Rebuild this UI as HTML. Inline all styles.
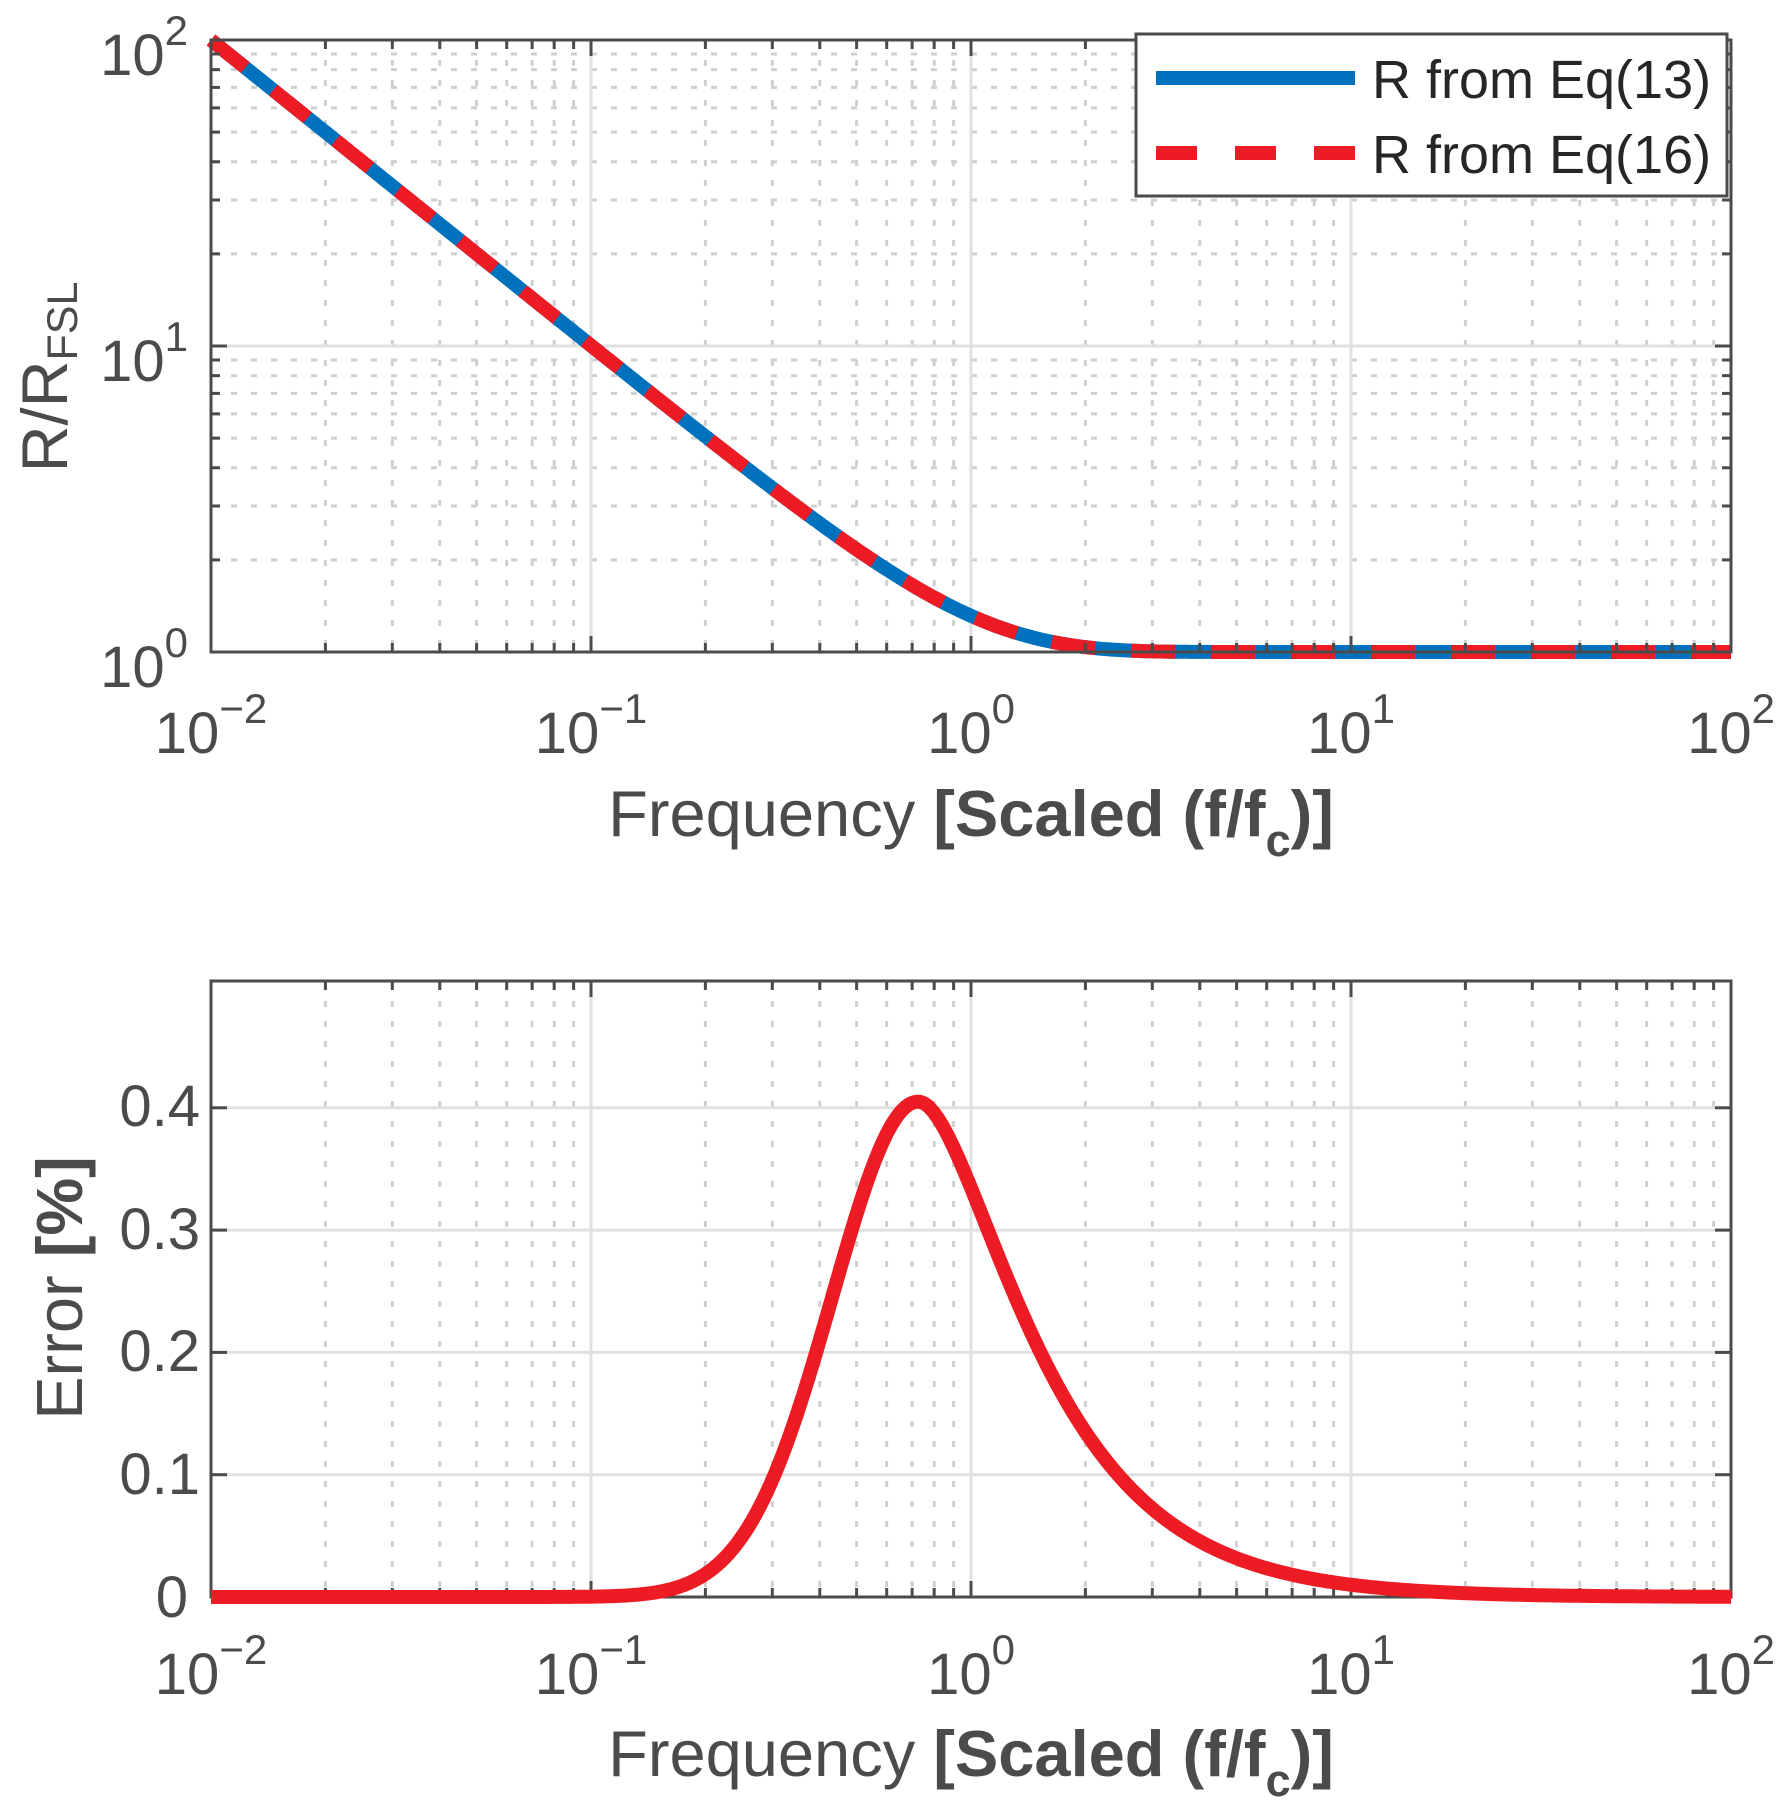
<!DOCTYPE html>
<html><head><meta charset="utf-8"><style>
html,body{margin:0;padding:0;background:#fff;}
svg{display:block;font-family:"Liberation Sans",Arial,sans-serif;}
</style></head><body>
<svg id="s" xmlns="http://www.w3.org/2000/svg" width="1787" height="1817" viewBox="0 0 1787 1817">
<rect width="1787" height="1817" fill="#fff"/>
<g id="g"></g>
<g fill="#4b4b4b" font-size="58">
<text x="188" y="75" text-anchor="end">10<tspan font-size="42" dy="-30">2</tspan></text>
<text x="188" y="381" text-anchor="end">10<tspan font-size="42" dy="-30">1</tspan></text>
<text x="188" y="687" text-anchor="end">10<tspan font-size="42" dy="-30">0</tspan></text>
<text x="211" y="753" text-anchor="middle">10<tspan font-size="42" dy="-30">−2</tspan></text>
<text x="591" y="753" text-anchor="middle">10<tspan font-size="42" dy="-30">−1</tspan></text>
<text x="971" y="753" text-anchor="middle">10<tspan font-size="42" dy="-30">0</tspan></text>
<text x="1351" y="753" text-anchor="middle">10<tspan font-size="42" dy="-30">1</tspan></text>
<text x="1731" y="753" text-anchor="middle">10<tspan font-size="42" dy="-30">2</tspan></text>
<text x="211" y="1694" text-anchor="middle">10<tspan font-size="42" dy="-30">−2</tspan></text>
<text x="591" y="1694" text-anchor="middle">10<tspan font-size="42" dy="-30">−1</tspan></text>
<text x="971" y="1694" text-anchor="middle">10<tspan font-size="42" dy="-30">0</tspan></text>
<text x="1351" y="1694" text-anchor="middle">10<tspan font-size="42" dy="-30">1</tspan></text>
<text x="1731" y="1694" text-anchor="middle">10<tspan font-size="42" dy="-30">2</tspan></text>
<text x="200" y="1126" text-anchor="end">0.4</text>
<text x="200" y="1249" text-anchor="end">0.3</text>
<text x="200" y="1371" text-anchor="end">0.2</text>
<text x="200" y="1494" text-anchor="end">0.1</text>
<text x="188" y="1617" text-anchor="end">0</text>
</g>
<g fill="#4b4b4b" font-size="65">
<text x="971" y="836" text-anchor="middle">Frequency <tspan font-weight="bold">[Scaled (f/f<tspan font-size="45" dy="20">c</tspan><tspan dy="-20">)]</tspan></tspan></text>
<text x="971" y="1776" text-anchor="middle">Frequency <tspan font-weight="bold">[Scaled (f/f<tspan font-size="45" dy="20">c</tspan><tspan dy="-20">)]</tspan></tspan></text>
<text transform="translate(67,377) rotate(-90)" text-anchor="middle">R/R<tspan font-size="43" dy="10">FSL</tspan></text>
<text transform="translate(82,1288) rotate(-90)" text-anchor="middle">Error <tspan font-weight="bold">[%]</tspan></text>
</g>
<rect x="1136" y="34" width="591" height="162" fill="#fff" stroke="#4b4b4b" stroke-width="3"/>
<line x1="1156" y1="78" x2="1355" y2="78" stroke="#0072BD" stroke-width="14"/>
<line x1="1156" y1="153" x2="1355" y2="153" stroke="#ED1C24" stroke-width="14" stroke-dasharray="41 38"/>
<g fill="#262626" font-size="54">
<text x="1372" y="98">R from Eq(13)</text>
<text x="1372" y="173">R from Eq(16)</text>
</g>
</svg>
<script>
(function(){
var g=document.getElementById('g');var NS='http://www.w3.org/2000/svg';
function el(t,a){var e=document.createElementNS(NS,t);for(var k in a)e.setAttribute(k,a[k]);g.appendChild(e);return e;}
var L=211,R=1731,D=380;
function X(lx){return L+(lx+2)*D;}
function axes(top,bot,ylog){
  for(var d=-2;d<2;d++)for(var m=2;m<=9;m++){var x=X(d+Math.log10(m));
    el('line',{x1:x,y1:top,x2:x,y2:bot,stroke:'#cfcfcf','stroke-width':3,'stroke-dasharray':'6 14'});}
  if(ylog){for(var dd=0;dd<2;dd++)for(var m2=2;m2<=9;m2++){var y=bot-(dd+Math.log10(m2))*306;
    el('line',{x1:L,y1:y,x2:R,y2:y,stroke:'#cfcfcf','stroke-width':3,'stroke-dasharray':'6 14'});}
    el('line',{x1:L,y1:346,x2:R,y2:346,stroke:'#e0e0e0','stroke-width':3});
  } else {for(var i=1;i<=4;i++){var yy=bot-i*122.3;el('line',{x1:L,y1:yy,x2:R,y2:yy,stroke:'#e0e0e0','stroke-width':3});}}
  for(var k=-1;k<=1;k++){var xx=X(k);el('line',{x1:xx,y1:top,x2:xx,y2:bot,stroke:'#e0e0e0','stroke-width':3});}
}
function frame(top,bot,ylog){
  var c='#4b4b4b';
  for(var d=-2;d<=2;d++){var x=X(d);
    el('line',{x1:x,y1:bot,x2:x,y2:bot-16,stroke:c,'stroke-width':3});el('line',{x1:x,y1:top,x2:x,y2:top+16,stroke:c,'stroke-width':3});
    if(d<2)for(var m=2;m<=9;m++){var xm=X(d+Math.log10(m));
      el('line',{x1:xm,y1:bot,x2:xm,y2:bot-9,stroke:c,'stroke-width':3});el('line',{x1:xm,y1:top,x2:xm,y2:top+9,stroke:c,'stroke-width':3});}}
  if(ylog){for(var dd=0;dd<=2;dd++){var y=bot-dd*306;
      el('line',{x1:L,y1:y,x2:L+16,y2:y,stroke:c,'stroke-width':3});el('line',{x1:R,y1:y,x2:R-16,y2:y,stroke:c,'stroke-width':3});
      if(dd<2)for(var m2=2;m2<=9;m2++){var ym=bot-(dd+Math.log10(m2))*306;
        el('line',{x1:L,y1:ym,x2:L+9,y2:ym,stroke:c,'stroke-width':3});el('line',{x1:R,y1:ym,x2:R-9,y2:ym,stroke:c,'stroke-width':3});}}}
  else{for(var i=0;i<=4;i++){var yy=bot-i*122.3;
      el('line',{x1:L,y1:yy,x2:L+16,y2:yy,stroke:c,'stroke-width':3});el('line',{x1:R,y1:yy,x2:R-16,y2:yy,stroke:c,'stroke-width':3});}}
  el('rect',{x:L,y:top,width:R-L,height:bot-top,fill:'none',stroke:c,'stroke-width':3});
}
axes(40,652,true);axes(981,1597,false);
var p='';for(var i=0;i<=800;i++){var lx=-2+4*i/800;var x=Math.pow(10,lx);var y=1/Math.tanh(x);var py=652-Math.log10(y)*306;p+=(i?'L':'M')+X(lx).toFixed(1)+' '+py.toFixed(1);}
el('path',{d:p,fill:'none',stroke:'#0072BD','stroke-width':14});
el('path',{d:p,fill:'none',stroke:'#ED1C24','stroke-width':14,'stroke-dasharray':'44 36'});
var pk=-0.139;
function err(lx){var d=lx-pk;var z;
  if(d<0){var s=0.226;z=d*d/(2*s*s);}
  else{z=15.06*d*d/(1+d/0.266);}
  return 0.405*Math.exp(-z);}
var q='';for(var j=0;j<=1200;j++){var lx2=-2+4*j/1200;var v=err(lx2);var py2=1597-v*1223;q+=(j?'L':'M')+X(lx2).toFixed(1)+' '+py2.toFixed(1);}
frame(40,652,true);frame(981,1597,false);
el('path',{d:q,fill:'none',stroke:'#ED1C24','stroke-width':14,'stroke-linejoin':'round'});
})();
</script>
</body></html>
